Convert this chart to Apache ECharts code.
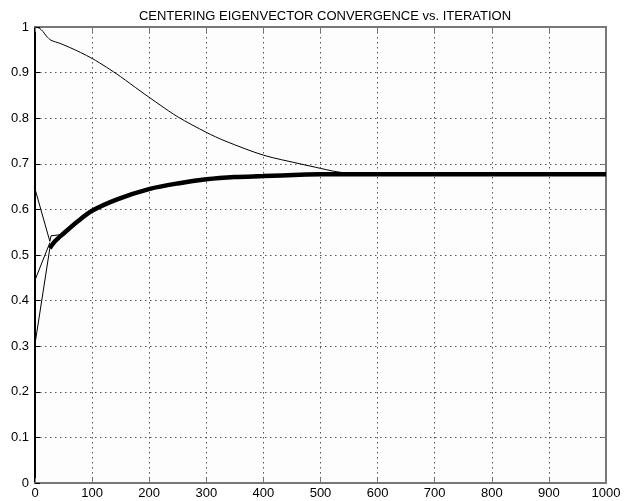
<!DOCTYPE html>
<html><head><meta charset="utf-8">
<script src="https://cdn.jsdelivr.net/npm/echarts@6/dist/echarts.min.js"></script>
<style>html,body{margin:0;padding:0;background:#fff}#c{width:629px;height:501px}</style>
</head><body><div id="c"></div>
<script>
var titleText = "CENTERING EIGENVECTOR CONVERGENCE vs. ITERATION";
var xTicks = [0,100,200,300,400,500,600,700,800,900,1000];
var yTicks = [0,0.1,0.2,0.3,0.4,0.5,0.6,0.7,0.8,0.9,1];
// upper converging component
var upperIter = [0,8,14,20,28,44,61,80,100,125,150,184,219,250,300,333,400,464,500,522,550,580];
var upperVal  = [1,0.997,0.99,0.98,0.971,0.964,0.955,0.944,0.931,0.912,0.891,0.860,0.829,0.803,0.769,0.750,0.719,0.700,0.690,0.684,0.679,0.677];
// bundled (thick) components
var bundleIter = [26,35,49,75,100,144,201,250,300,350,400,464,500,600,700,800,900,1000];
var bundleVal  = [0.515,0.53,0.546,0.574,0.597,0.622,0.645,0.657,0.666,0.671,0.673,0.676,0.677,0.677,0.677,0.677,0.677,0.677];
// initial transients
var aIter = [0,26,28,47];  var aVal = [0.645,0.53,0.542,0.545];
var bIter = [0,26];        var bVal = [0.445,0.527];
var cIter = [0,26];        var cVal = [0.305,0.515];

function pairs(xs, ys){ return xs.map(function(x,i){ return [x, ys[i]]; }); }
var chart = echarts.init(document.getElementById('c'), null, {renderer:'canvas'});
var font = 'Liberation Sans, Arial, sans-serif';
var split = {show:true, lineStyle:{color:'#555', type:[1.5,3.5], width:1}};
function thin(data, sm){ return {type:'line', data:data, symbol:'none', smooth:sm, lineStyle:{color:'#000', width:1}, animation:false, z:3}; }
chart.setOption({
  animation:false,
  backgroundColor:'#fff',
  title:{text:titleText, left:320, top:5, textAlign:'center', textStyle:{fontFamily:font, fontSize:13, fontWeight:'normal', color:'#000'}},
  grid:{left:35, right:23, top:27, bottom:18, show:true, backgroundColor:'#fdfdfd', borderWidth:0},
  xAxis:[
    {type:'value', min:0, max:1000, interval:100, position:'bottom',
     axisLine:{show:true, onZero:false, lineStyle:{color:'#777', width:2}},
     axisTick:{show:true, inside:true, length:5, lineStyle:{color:'#777'}},
     axisLabel:{color:'#000', fontFamily:font, fontSize:13, margin:4, formatter:function(v){return String(v);}},
     splitLine:split},
    {type:'value', min:0, max:1000, interval:100, position:'top',
     axisLine:{show:true, onZero:false, lineStyle:{color:'#777', width:2}},
     axisTick:{show:true, inside:true, length:5, lineStyle:{color:'#777'}},
     axisLabel:{show:false}, splitLine:{show:false}}
  ],
  yAxis:[
    {type:'value', min:0, max:1, interval:0.1, position:'left',
     axisLine:{show:true, onZero:false, lineStyle:{color:'#000', width:2}},
     axisTick:{show:true, inside:true, length:5, lineStyle:{color:'#000'}},
     axisLabel:{color:'#000', fontFamily:font, fontSize:13, margin:6, formatter:function(v){return String(Math.round(v*10)/10);}},
     splitLine:split},
    {type:'value', min:0, max:1, interval:0.1, position:'right',
     axisLine:{show:true, onZero:false, lineStyle:{color:'#777', width:2}},
     axisTick:{show:true, inside:true, length:5, lineStyle:{color:'#777'}},
     axisLabel:{show:false}, splitLine:{show:false}}
  ],
  series:[
    thin(pairs(upperIter, upperVal), 0.3),
    thin(pairs(aIter, aVal), false),
    thin(pairs(bIter, bVal), false),
    thin(pairs(cIter, cVal), false),
    {type:'line', data:pairs(bundleIter, bundleVal), symbol:'none', smooth:0.3, lineStyle:{color:'#000', width:4.5}, animation:false, z:4}
  ]
});
</script></body></html>
